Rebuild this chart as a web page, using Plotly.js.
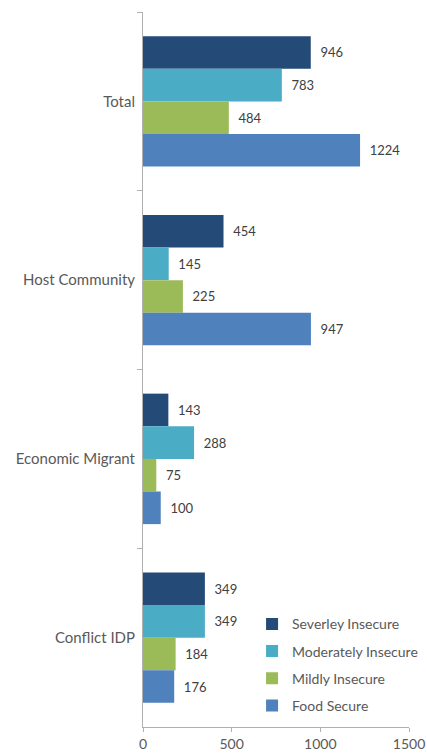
<!DOCTYPE html>
<html><head><meta charset="utf-8">
<script src="https://cdn.plot.ly/plotly-3.0.1.min.js"></script>
<style>html,body{margin:0;padding:0;background:#fff}#chart{width:427px;height:753px}</style>
</head><body><div id="chart"></div>
<script>
const categories = ["Total", "Host Community", "Economic Migrant", "Conflict IDP"];
const seriesNames = ["Severley Insecure", "Moderately Insecure", "Mildly Insecure", "Food Secure"];
const severely = [946, 454, 143, 349];
const moderately = [783, 145, 288, 349];
const mildly = [484, 225, 75, 184];
const foodSecure = [1224, 947, 100, 176];
const xTicks = [0, 500, 1000, 1500];
const colors = ["#244a78", "#4bacc6", "#9bbb59", "#4f81bd"];

const values = [severely, moderately, mildly, foodSecure];
const traces = values.map((v, i) => ({
  type: "bar", orientation: "h",
  name: seriesNames[i], y: categories, x: v,
  marker: {color: colors[i]},
  texttemplate: "\u00a0\u00a0%{x}", textposition: "outside", cliponaxis: false,
  textfont: {family: "Lato, sans-serif", size: 13, color: "#404040"},
  legendgroup: "g" + i
}));

const layout = {
  width: 427, height: 753,
  margin: {l: 143, r: 18, t: 12, b: 26, autoexpand: false},
  paper_bgcolor: "#fff", plot_bgcolor: "#fff",
  barmode: "group", bargap: 0.27, bargroupgap: 0,
  font: {family: "Lato, sans-serif", size: 13, color: "#595959"},
  xaxis: {range: [0, 1500], tickvals: xTicks, ticktext: xTicks.map(String),
    showgrid: false, zeroline: false, showline: true, linecolor: "#b0b0b0",
    ticks: "outside", ticklen: 4, tickcolor: "#b0b0b0", tickfont: {size: 14}},
  yaxis: {autorange: "reversed", showgrid: false, showline: true, linecolor: "#b0b0b0",
    ticks: "outside", ticklen: 5, tickcolor: "#b0b0b0", tickson: "boundaries",
    tickfont: {size: 15}, ticklabelstandoff: 4},
  legend: {x: 0.41, y: 0.166, xanchor: "left", yanchor: "top", traceorder: "grouped",
    tracegroupgap: 6, font: {size: 14, color: "#595959"}, bgcolor: "rgba(0,0,0,0)", itemwidth: 30},
  showlegend: true
};
Plotly.newPlot("chart", traces, layout, {displayModeBar: false, staticPlot: true});
</script></body></html>
